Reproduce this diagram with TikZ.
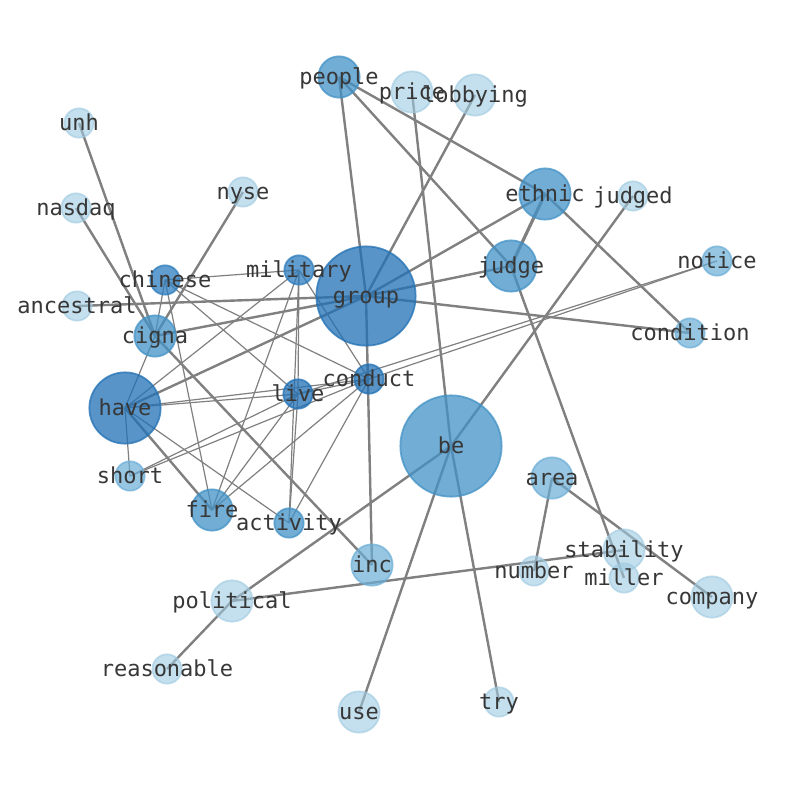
\documentclass[tikz,border=0pt]{standalone}
\usepackage{fontspec}
\setmonofont{DejaVu Sans Mono}
\usetikzlibrary{backgrounds}
\definecolor{cA}{RGB}{33,113,181}
\definecolor{cB}{RGB}{45,125,190}
\definecolor{cC}{RGB}{66,146,198}
\definecolor{cD}{RGB}{107,174,214}
\definecolor{cE}{RGB}{158,202,225}
\definecolor{edgegray}{RGB}{128,128,128}
\definecolor{txt}{RGB}{55,55,55}
\tikzset{
  vtx/.style={circle, inner sep=0pt, line width=1.3pt},
  nA/.style={vtx, fill=cA, draw=cA, fill opacity=0.75, draw opacity=0.75},
  nB/.style={vtx, fill=cB, draw=cB, fill opacity=0.75, draw opacity=0.75},
  nC/.style={vtx, fill=cC, draw=cC, fill opacity=0.75, draw opacity=0.75},
  nD/.style={vtx, fill=cD, draw=cD, fill opacity=0.7, draw opacity=0.7},
  nE/.style={vtx, fill=cE, draw=cE, fill opacity=0.6, draw opacity=0.6},
  sA/.style={minimum size=22pt},
  sB/.style={minimum size=31pt},
  sC/.style={minimum size=38.5pt},
  sD/.style={minimum size=53.5pt},
  sE/.style={minimum size=74.5pt},
  sF/.style={minimum size=76pt},
  lbl/.style={anchor=base, yshift=-5.6pt, inner sep=0pt, text=txt, font=\fontsize{16.5}{18}\selectfont\ttfamily},
  thickedge/.style={draw=edgegray, line width=1.8pt},
  thinedge/.style={draw=edgegray, line width=0.9pt},
}
\begin{document}
\begin{tikzpicture}[x=0.75pt, y=-0.75pt]
\useasboundingbox (0,0) rectangle (794,790);
% nodes
\node[nC,sB] (people) at (339,77) {};
\node[nE,sB] (price) at (412,92) {};
\node[nE,sB] (lobbying) at (475,95) {};
\node[nE,sA] (unh) at (79,123) {};
\node[nE,sA] (nasdaq) at (76,208) {};
\node[nE,sA] (nyse) at (243,192) {};
\node[nC,sC] (ethnic) at (545,194) {};
\node[nE,sA] (judged) at (633,196) {};
\node[nC,sC] (judge) at (511,266) {};
\node[nD,sA] (notice) at (717,261) {};
\node[nB,sA] (chinese) at (165,280) {};
\node[nB,sA] (military) at (299,270) {};
\node[nA,sE] (group) at (366,296) {};
\node[nE,sA] (ancestral) at (77,306) {};
\node[nD,sA] (condition) at (690,333) {};
\node[nC,sB] (cigna) at (155,336) {};
\node[nA,sA] (conduct) at (369,379) {};
\node[nA,sA] (live) at (298,394) {};
\node[nA,sD] (have) at (125,408) {};
\node[nC,sF] (be) at (451,446) {};
\node[nD,sA] (short) at (130,476) {};
\node[nD,sB] (area) at (552,478) {};
\node[nC,sB] (fire) at (212,510) {};
\node[nC,sA] (activity) at (289,523) {};
\node[nE,sB] (stability) at (624,550) {};
\node[nD,sB] (inc) at (372,565) {};
\node[nE,sA] (number) at (534,571) {};
\node[nE,sA] (miller) at (624,578) {};
\node[nE,sB] (company) at (712,597) {};
\node[nE,sB] (political) at (232,601) {};
\node[nE,sA] (reasonable) at (167,669) {};
\node[nE,sB] (use) at (359,712) {};
\node[nE,sA] (try) at (499,702) {};
% edges
\begin{pgfonlayer}{background}
\fill[white] (0,0) rectangle (794,790);
\foreach \a/\b in {people/group, people/judge, people/ethnic, price/be, be/try,
  lobbying/group, unh/cigna, nasdaq/cigna, nyse/cigna, ethnic/group,
  ethnic/condition, judge/group, judge/miller, group/cigna, group/have,
  group/ancestral, group/condition, group/inc, cigna/inc, have/fire,
  area/number, area/company, political/stability, be/use, be/judged,
  be/political, political/reasonable}
  \draw[thickedge] (\a.center) -- (\b.center);
\draw[thickedge, line width=2.4pt] (ethnic.center) -- (judge.center);
\foreach \a/\b in {chinese/military, chinese/cigna, chinese/fire, chinese/live,
  chinese/conduct, military/have, military/fire, military/live,
  military/activity, military/conduct, have/live, have/conduct,
  have/activity, have/short, cigna/have, short/live, short/conduct,
  fire/live, fire/conduct, activity/live, activity/conduct, live/conduct,
  live/notice, conduct/notice}
  \draw[thinedge] (\a.center) -- (\b.center);
\end{pgfonlayer}
% labels
\foreach \n in {people, price, lobbying, unh, nasdaq, nyse, ethnic, judged,
  judge, notice, chinese, military, group, ancestral, condition, cigna,
  conduct, live, have, be, short, area, fire, activity, stability, inc,
  number, miller, company, political, reasonable, use, try}
  \node[lbl] (\n-l) at (\n.center) {\n};
\end{tikzpicture}
\end{document}
